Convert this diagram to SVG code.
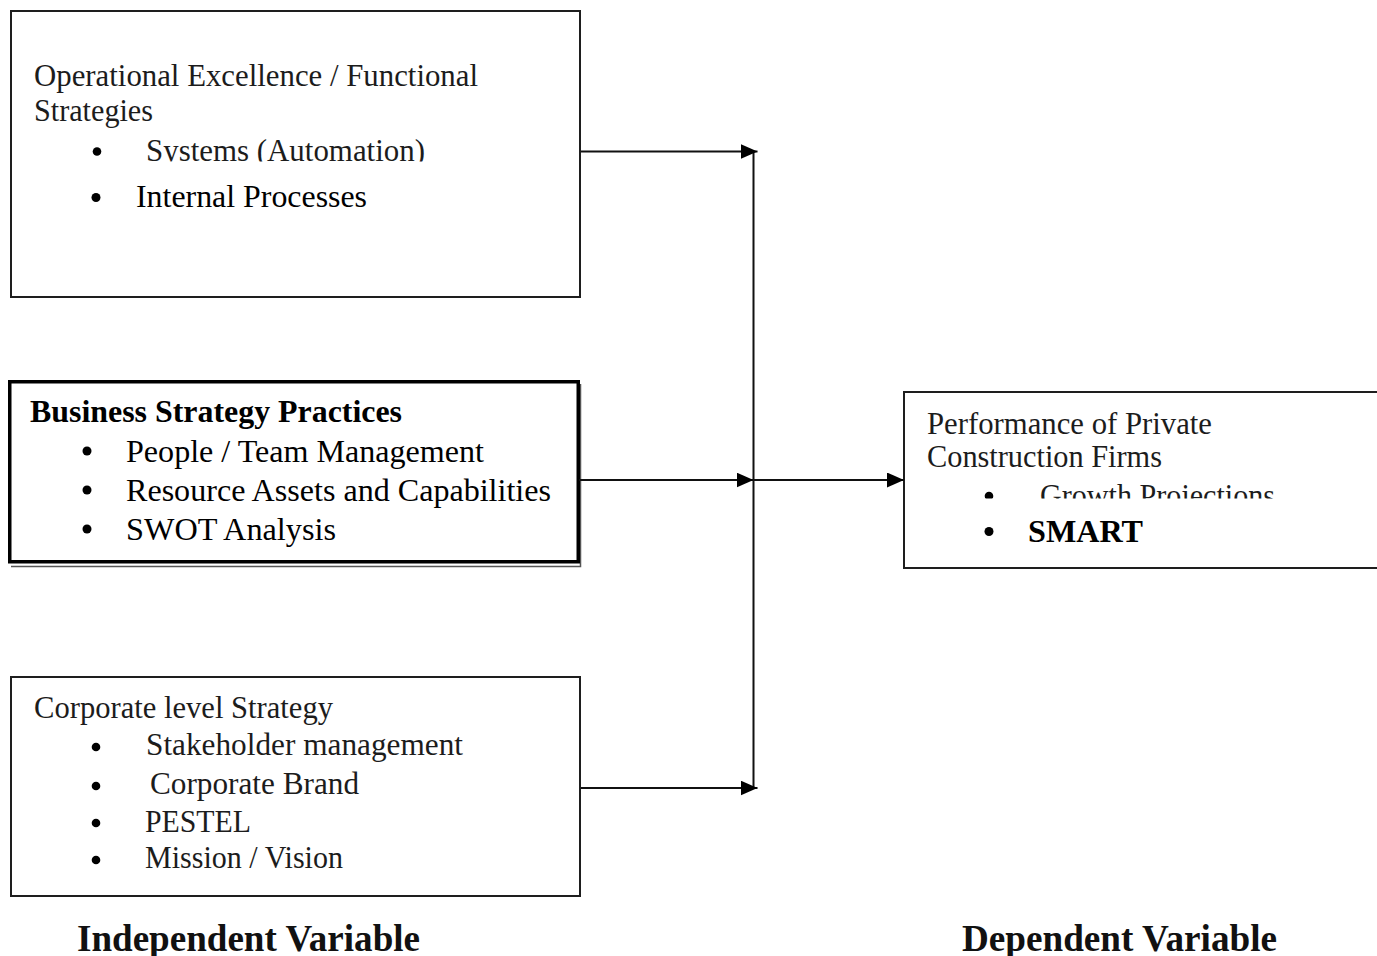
<svg xmlns="http://www.w3.org/2000/svg" width="1377" height="956" viewBox="0 0 1377 956">
  <style>
    .box { fill: #ffffff; stroke: #1e1e1e; stroke-width: 2; }
    .box-bold { fill: #ffffff; stroke: #000000; stroke-width: 3.5; }
    .shadow { fill: none; stroke: #555555; stroke-width: 1.5; }
    .soft { font-family: "Liberation Serif", "Times New Roman", serif; font-size: 31px; fill: #1c1c1c; }
    .plain { font-family: "Liberation Serif", "Times New Roman", serif; font-size: 32px; fill: #000000; }
    .strong { font-family: "Liberation Serif", "Times New Roman", serif; font-size: 32px; font-weight: bold; fill: #000000; }
    .caption { font-family: "Liberation Serif", "Times New Roman", serif; font-size: 37px; font-weight: bold; fill: #111111; }
    .dot { fill: #000000; }
    .link { fill: none; stroke: #111111; stroke-width: 2; }
  </style>
  <defs>
    <marker id="head" markerUnits="userSpaceOnUse" markerWidth="17" markerHeight="15" refX="17" refY="7.5" orient="auto">
      <path d="M0,0 L17,7.5 L0,15 Z" fill="#000000"/>
    </marker>
    <clipPath id="cut-systems"><rect x="0" y="0" width="600" height="161.5"/></clipPath>
    <clipPath id="cut-growth"><rect x="900" y="470" width="477" height="28.5"/></clipPath>
  </defs>

  <rect width="1377" height="956" fill="#ffffff"/>

  <!-- Operational excellence -->
  <g id="node-operational">
    <rect class="box" x="11" y="11" width="569" height="286"/>
    <text class="soft" x="34" y="86" textLength="444" lengthAdjust="spacingAndGlyphs">Operational Excellence / Functional</text>
    <text class="soft" x="34" y="121" textLength="119" lengthAdjust="spacingAndGlyphs">Strategies</text>
    <circle class="dot" cx="97" cy="151.5" r="4.3"/>
    <text class="soft" x="146" y="161" textLength="279" lengthAdjust="spacingAndGlyphs" clip-path="url(#cut-systems)">Systems (Automation)</text>
    <circle class="dot" cx="96" cy="197.5" r="4.5"/>
    <text class="plain" x="136" y="207" textLength="231" lengthAdjust="spacingAndGlyphs">Internal Processes</text>
  </g>

  <!-- Business strategy practices -->
  <g id="node-business">
    <path class="shadow" d="M11,566.5 H580.5 V384"/>
    <rect class="box-bold" x="9.75" y="381.75" width="568.5" height="180"/>
    <text class="strong" x="30" y="421.5" textLength="372" lengthAdjust="spacingAndGlyphs">Business Strategy Practices</text>
    <circle class="dot" cx="87" cy="451" r="4.5"/>
    <text class="plain" x="126" y="461.5" textLength="358" lengthAdjust="spacingAndGlyphs">People / Team Management</text>
    <circle class="dot" cx="87" cy="490" r="4.5"/>
    <text class="plain" x="126" y="500.5" textLength="425" lengthAdjust="spacingAndGlyphs">Resource Assets and Capabilities</text>
    <circle class="dot" cx="87" cy="529" r="4.5"/>
    <text class="plain" x="126" y="539.5" textLength="210" lengthAdjust="spacingAndGlyphs">SWOT Analysis</text>
  </g>

  <!-- Corporate level strategy -->
  <g id="node-corporate">
    <rect class="box" x="11" y="677" width="569" height="219"/>
    <text class="soft" x="34" y="718" textLength="299" lengthAdjust="spacingAndGlyphs">Corporate level Strategy</text>
    <circle class="dot" cx="96" cy="747" r="4.3"/>
    <text class="soft" x="146" y="755" textLength="317" lengthAdjust="spacingAndGlyphs">Stakeholder management</text>
    <circle class="dot" cx="96" cy="786" r="4.3"/>
    <text class="soft" x="150" y="794" textLength="209" lengthAdjust="spacingAndGlyphs">Corporate Brand</text>
    <circle class="dot" cx="96" cy="823" r="4.3"/>
    <text class="soft" x="145" y="831.5" textLength="106" lengthAdjust="spacingAndGlyphs">PESTEL</text>
    <circle class="dot" cx="96" cy="860" r="4.3"/>
    <text class="soft" x="145" y="868" textLength="198" lengthAdjust="spacingAndGlyphs">Mission / Vision</text>
  </g>

  <!-- Performance of private construction firms -->
  <g id="node-performance">
    <rect class="box" x="904" y="392" width="480" height="176"/>
    <text class="soft" x="927" y="433.5" font-size="28" textLength="285" lengthAdjust="spacingAndGlyphs">Performance of Private</text>
    <text class="soft" x="927" y="467" font-size="28" textLength="235" lengthAdjust="spacingAndGlyphs">Construction Firms</text>
    <g clip-path="url(#cut-growth)">
      <circle class="dot" cx="989" cy="496" r="4.3"/>
      <text class="soft" x="1040" y="506" font-size="28" textLength="235" lengthAdjust="spacingAndGlyphs">Growth Projections</text>
    </g>
    <circle class="dot" cx="989" cy="531.5" r="4.5"/>
    <text class="strong" x="1028" y="541.5" textLength="115" lengthAdjust="spacingAndGlyphs">SMART</text>
  </g>

  <!-- Column captions -->
  <g id="caption-independent">
    <text class="caption" x="77" y="950.5" textLength="343" lengthAdjust="spacingAndGlyphs">Independent Variable</text>
  </g>
  <g id="caption-dependent">
    <text class="caption" x="962" y="950.5" textLength="315" lengthAdjust="spacingAndGlyphs">Dependent Variable</text>
  </g>

  <!-- Connectors -->
  <g id="connectors">
    <path class="link" d="M753.5,151 V789"/>
    <path class="link" d="M581,151.5 H757.5" marker-end="url(#head)"/>
    <path class="link" d="M579,480 H753.5" marker-end="url(#head)"/>
    <path class="link" d="M581,788 H757.5" marker-end="url(#head)"/>
    <path class="link" d="M753.5,480 H904" marker-end="url(#head)"/>
  </g>
</svg>
